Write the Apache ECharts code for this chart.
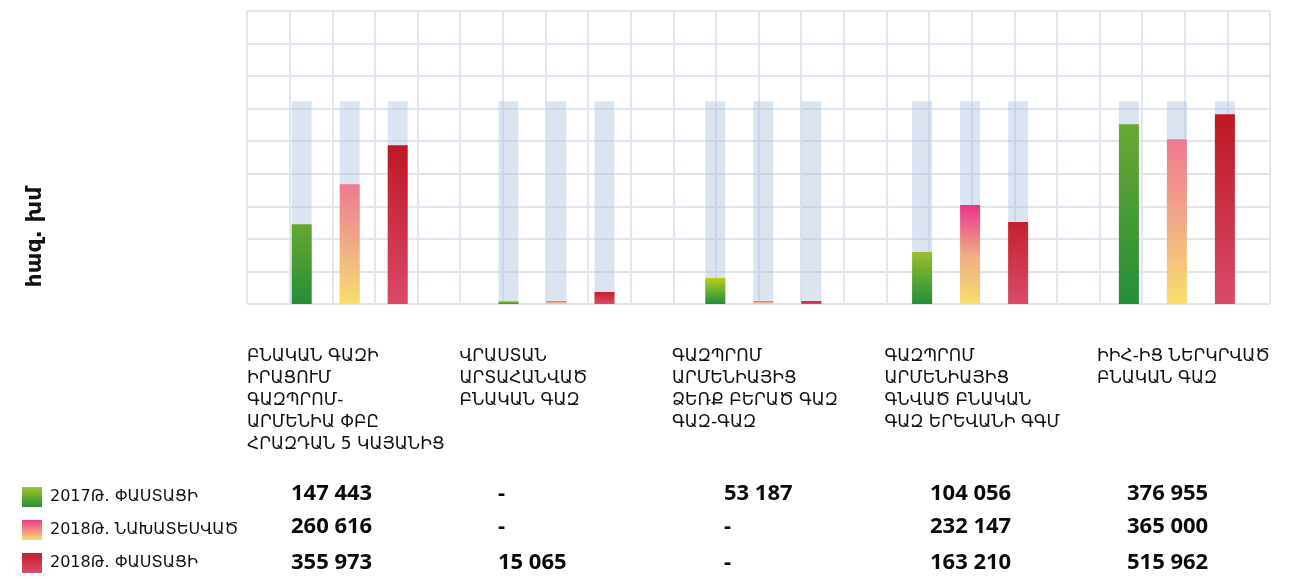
<!DOCTYPE html>
<html>
<head>
<meta charset="utf-8">
<script src="https://cdn.jsdelivr.net/npm/echarts@6/dist/echarts.min.js"></script>
<style>
html,body{margin:0;padding:0;background:#fff;}
#chart{width:1296px;height:579px;}
</style>
</head>
<body>
<div id="chart"></div>
<script>
// ---- Data ----
const categories = [
  'ԲՆԱԿԱՆ ԳԱԶԻ\nԻՐԱՑՈՒՄ\nԳԱԶՊՐՈՄ-\nԱՐՄԵՆԻԱ ՓԲԸ\nՀՐԱԶԴԱՆ 5 ԿԱՅԱՆԻՑ',
  'ՎՐԱՍՏԱՆ\nԱՐՏԱՀԱՆՎԱԾ\nԲՆԱԿԱՆ ԳԱԶ',
  'ԳԱԶՊՐՈՄ\nԱՐՄԵՆԻԱՅԻՑ\nՁԵՌՔ ԲԵՐԱԾ ԳԱԶ\nԳԱԶ-ԳԱԶ',
  'ԳԱԶՊՐՈՄ\nԱՐՄԵՆԻԱՅԻՑ\nԳՆՎԱԾ ԲՆԱԿԱՆ\nԳԱԶ ԵՐԵՎԱՆԻ ԳԳՄ',
  'ԻԻՀ-ԻՑ ՆԵՐԿՐՎԱԾ\nԲՆԱԿԱՆ ԳԱԶ'
];
const seriesNames = ['2017Թ. ՓԱՍՏԱՑԻ', '2018Թ. ՆԱԽԱՏԵՍՎԱԾ', '2018Թ. ՓԱՍՏԱՑԻ'];
// bar heights as drawn (in grid units of the picture's axis)
const bars2017Fact = [2.45, 0.09, 0.80, 1.60, 5.52];
const bars2018Plan = [3.68, 0.09, 0.09, 3.04, 5.06];
const bars2018Fact = [4.88, 0.37, 0.09, 2.52, 5.83];
const backgroundLevel = [6.23, 6.23, 6.23, 6.23, 6.23];
// table values (thousand m3)
const table2017Fact = [147443, null, 53187, 104056, 376955];
const table2018Plan = [260616, null, null, 232147, 365000];
const table2018Fact = [355973, 15065, null, 163210, 515962];
const yAxisName = 'հազ. խմ';

// ---- Styles ----
function grad(top, bottom, mid) {
  const stops = [{offset: 0, color: top}];
  if (mid) stops.push({offset: 0.5, color: mid});
  stops.push({offset: 1, color: bottom});
  return new echarts.graphic.LinearGradient(0, 0, 0, 1, stops);
}
// per-bar top colours of the gradients (style only)
const greenTops = ['#68a731', '#b8d21c', '#b5cf1e', '#9bbe2c', '#6ba832'];
const pinkTops = ['#ee7a90', '#ee5a8a', '#ee5a8a', '#e8348a', '#ee7a90'];
const redTops = ['#bd1823', '#c3202e', '#c3202e', '#c4212f', '#bd1823'];
const styleFns = [
  i => grad(greenTops[i], '#228f38'),
  i => grad(pinkTops[i], '#f8df6a', '#f0aa88'),
  i => grad(redTops[i], '#da4a6a')
];
const legGreen = grad('#a3c52a', '#27903a');
const legPink = grad('#ec3b8c', '#f6dc76');
const legRed = grad('#c3202e', '#d94c6a');

const gridLine = {show: true, lineStyle: {color: '#dfe6f0', width: 2}};
const armFont = 'DejaVu Sans';

const fmt = v => v == null ? '-' : String(v).replace(/\B(?=(\d{3})+(?!\d))/g, ' ');

const chart = echarts.init(document.getElementById('chart'));

const bgSeries = [0, 1, 2].map(() => ({
  type: 'bar', xAxisIndex: 1, yAxisIndex: 1, data: backgroundLevel,
  barWidth: 20, barGap: '140%', silent: true, z: 1,
  itemStyle: {color: 'rgba(172,190,222,0.42)'}
}));
const fgData = [bars2017Fact, bars2018Plan, bars2018Fact];
const fgSeries = fgData.map((d, s) => ({
  type: 'bar', name: seriesNames[s], xAxisIndex: 0, yAxisIndex: 1,
  data: d.map((v, i) => ({value: v, itemStyle: {color: styleFns[s](i)}})),
  barWidth: 20, barGap: '140%', z: 3
}));

// table texts
const colX = [291, 498, 724, 930, 1127];
const rowY = [494, 527, 563];
const tableRows = [table2017Fact, table2018Plan, table2018Fact];
const tableGraphics = [];
tableRows.forEach((row, r) => {
  row.forEach((v, c) => {
    tableGraphics.push({
      type: 'text', left: colX[c], top: rowY[r] - 11,
      style: {text: fmt(v), font: 'bold 22px "Open Sans"', fill: '#0a0a0a'}
    });
  });
});

const option = {
  animation: false,
  grid: [
    {left: 247, right: 26, top: 11, bottom: 275},
    {left: 247, width: 850, top: 330, height: 10},
    {left: 246.3, right: 15.7, top: 11, bottom: 275}
  ],
  legend: {
    orient: 'vertical', left: 22, top: 487, padding: 0,
    itemWidth: 20, itemHeight: 20, itemGap: 13, icon: 'rect',
    textStyle: {fontFamily: armFont, fontSize: 16, color: '#111', padding: [0, 0, 0, 3]},
    data: [
      {name: seriesNames[0], itemStyle: {color: legGreen}},
      {name: seriesNames[1], itemStyle: {color: legPink}},
      {name: seriesNames[2], itemStyle: {color: legRed}}
    ],
    selectedMode: false
  },
  xAxis: [
    {type: 'category', gridIndex: 2, data: categories, show: false},
    {type: 'category', gridIndex: 2, data: categories, show: false},
    {type: 'value', gridIndex: 0, min: 0, max: 24, interval: 1,
     axisLine: {show: false}, axisTick: {show: false}, axisLabel: {show: false},
     splitLine: gridLine},
    {type: 'category', gridIndex: 1, data: categories, boundaryGap: false,
     axisLine: {show: false}, axisTick: {show: false},
     axisLabel: {align: 'left', verticalAlign: 'top', margin: 6, lineHeight: 22,
       fontFamily: armFont, fontSize: 17, color: '#111', interval: 0}}
  ],
  yAxis: [
    {type: 'value', gridIndex: 0, min: 0, max: 9, interval: 1,
     axisLine: {show: false}, axisTick: {show: false}, axisLabel: {show: false},
     splitLine: gridLine},
    {type: 'value', gridIndex: 2, min: 0, max: 9, interval: 1, show: false},
    {type: 'value', gridIndex: 1, show: false}
  ],
  graphic: [
    {type: 'text', x: 35, y: 237, rotation: Math.PI / 2,
     style: {text: yAxisName, font: 'bold 22px "DejaVu Sans"', fill: '#111',
       align: 'center', verticalAlign: 'middle'}}
  ].concat(tableGraphics),
  series: bgSeries.concat(fgSeries)
};
chart.setOption(option);
</script>
</body>
</html>
